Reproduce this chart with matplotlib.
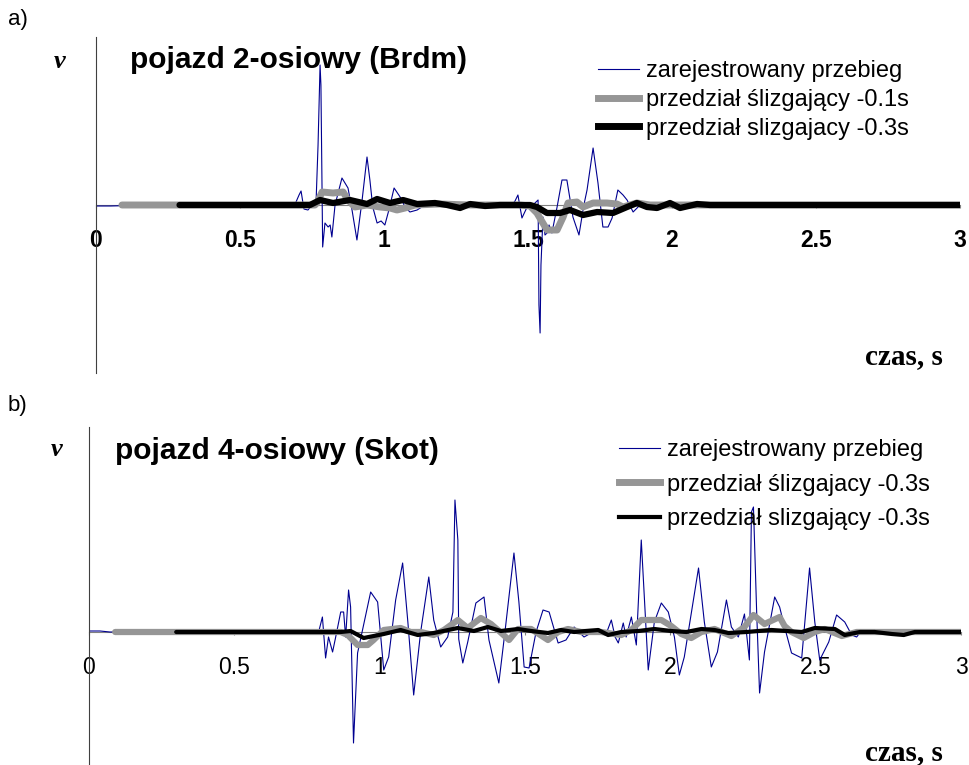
import matplotlib
matplotlib.use("Agg")
import matplotlib.pyplot as plt
from matplotlib.lines import Line2D

# panel a) - pojazd 2-osiowy (Brdm), v in arbitrary units
t_a_raw = [0.0, 0.05, 0.19, 0.36, 0.57, 0.69, 0.705, 0.712, 0.722, 0.736, 0.75, 0.764, 0.771,
           0.778, 0.781, 0.787, 0.795, 0.806, 0.813, 0.819, 0.83, 0.854, 0.875, 0.889, 0.906,
           0.924, 0.941, 0.951, 0.961, 0.976, 0.99, 1.003, 1.017, 1.035, 1.056, 1.073, 1.09,
           1.115, 1.142, 1.17, 1.194, 1.333, 1.444, 1.455, 1.465, 1.479, 1.497, 1.517, 1.535,
           1.538, 1.542, 1.545, 1.552, 1.559, 1.566, 1.573, 1.583, 1.601, 1.618, 1.635, 1.656,
           1.677, 1.694, 1.705, 1.726, 1.743, 1.76, 1.778, 1.792, 1.812, 1.83, 1.844, 1.865,
           1.889, 1.924, 1.958, 3.0]
v_a_raw = [-1, -1, 0, 0, 0, 0, 10, 14, -4, -5, 0, 2, 60,
           140, 120, -42, -18, -22, -20, -32, 0, 27, 17, -5, -35,
           5, 48, 25, -2, -18, -16, -20, -5, 17, 8, -2, -7,
           -5, 0, 3, -1, 0, 0, 4, 10, -13, -2, 0, 5,
           -100, -128, -60, -12, -30, -28, -20, -28, -2, 25, 25, -12,
           -30, 0, 15, 57, 22, -22, -22, -13, 15, 10, 5, -7,
           0, 2, 0, 0]

t_a_01 = [0.09, 0.3, 0.5, 0.76, 0.767, 0.785, 0.823, 0.858, 0.875, 0.899, 0.941, 0.986, 1.021,
          1.045, 1.073, 1.108, 1.194, 1.299, 1.472, 1.507, 1.531, 1.566, 1.601, 1.622, 1.639,
          1.67, 1.691, 1.726, 1.774, 1.809, 1.83, 1.878, 1.924, 2.097, 3.0]
v_a_01 = [0, 0, 0, 0, 2, 13, 12, 13, 5, -2, 0, -2, -3,
          -5, -3, 0, 1, 0, 0, -1, -8, -25, -25, -12, 2,
          3, -2, 2, 2, 1, -2, 2, 0, 0, 0]

t_a_03 = [0.29, 0.6, 0.743, 0.778, 0.823, 0.882, 0.941, 0.976, 1.021, 1.066, 1.115, 1.177,
          1.219, 1.264, 1.299, 1.351, 1.403, 1.507, 1.531, 1.566, 1.611, 1.646, 1.691, 1.74,
          1.795, 1.844, 1.878, 1.913, 1.948, 1.993, 2.028, 2.087, 2.132, 3.0]
v_a_03 = [0, 0, 0, 5, 2, 5, 1, 6, 2, 5, 1, 2,
          0, -3, 1, -1, 0, 0, -2, -8, -8, -5, -10, -7,
          -8, -2, 2, -2, -3, 2, -3, 1, 0, 0]

# panel b) - pojazd 4-osiowy (Skot)
t_b_raw = [0.0, 0.038, 0.072, 0.383, 0.728, 0.79, 0.803, 0.814, 0.824, 0.838, 0.848, 0.866,
           0.876, 0.883, 0.893, 0.9, 0.91, 0.924, 0.941, 0.969, 0.993, 1.014, 1.031, 1.055,
           1.079, 1.097, 1.117, 1.141, 1.169, 1.186, 1.21, 1.234, 1.252, 1.259, 1.269, 1.272,
           1.286, 1.303, 1.331, 1.359, 1.376, 1.41, 1.431, 1.462, 1.479, 1.497, 1.514, 1.538,
           1.562, 1.583, 1.614, 1.641, 1.669, 1.703, 1.752, 1.779, 1.797, 1.81, 1.821, 1.838,
           1.848, 1.866, 1.883, 1.9, 1.924, 1.945, 1.969, 1.993, 2.014, 2.031, 2.048, 2.097,
           2.117, 2.141, 2.162, 2.193, 2.21, 2.234, 2.255, 2.272, 2.279, 2.286, 2.297, 2.307,
           2.324, 2.359, 2.376, 2.393, 2.417, 2.452, 2.479, 2.497, 2.514, 2.545, 2.572, 2.6,
           2.624, 2.641, 2.659, 2.693, 3.0]
v_b_raw = [1, 1, 0, 0, 0, 0, 15, -26, -5, -20, -6, 20,
           20, -5, 42, 25, -111, -21, 2, 40, 30, -38, -25, 32,
           69, 10, -63, 0, 55, 12, -15, -5, 20, 132, 92, -7,
           -31, -10, 29, 35, -8, -51, 0, 79, 30, -35, -36, 0,
           22, 20, -11, -8, 5, -5, 3, -2, 12, -5, -11, 9,
           -5, 15, -13, 92, -38, 10, 29, 20, -5, -43, -25, 64,
           10, -35, -20, 32, 5, -5, 18, -28, 120, 125, 20, -61,
           -20, 35, 25, 5, -21, -26, 64, 10, -28, -10, 17, 10,
           -3, -5, 2, 0, 0]

t_b_g = [0.09, 0.5, 0.866, 0.89, 0.924, 0.959, 0.979, 1.014, 1.072, 1.107, 1.141, 1.186,
         1.221, 1.269, 1.303, 1.348, 1.383, 1.407, 1.445, 1.476, 1.521, 1.579, 1.614, 1.648,
         1.693, 1.762, 1.831, 1.866, 1.9, 1.969, 2.003, 2.038, 2.072, 2.107, 2.152, 2.21,
         2.255, 2.286, 2.324, 2.376, 2.393, 2.417, 2.459, 2.497, 2.531, 2.59, 2.641, 2.693, 3.0]
v_b_g = [0, 0, 0, -3, -13, -13, -8, 2, 4, 0, 0, -3,
         2, 12, 4, 14, 8, 2, -8, 3, 3, -8, 0, 3,
         0, 0, -3, 2, 12, 12, 6, -2, -6, 0, 3, -4,
         5, 17, 8, 15, 6, 0, -6, 0, 3, -4, 0, 0, 0]

t_b_k = [0.3, 0.7, 0.866, 0.9, 0.945, 1.014, 1.072, 1.131, 1.186, 1.269, 1.324, 1.372,
         1.417, 1.476, 1.521, 1.579, 1.624, 1.669, 1.71, 1.752, 1.786, 1.831, 1.89, 1.945,
         2.003, 2.055, 2.107, 2.152, 2.2, 2.262, 2.303, 2.348, 2.4, 2.452, 2.497, 2.566,
         2.6, 2.652, 2.703, 2.762, 2.803, 2.841, 2.959, 3.0]
v_b_k = [0, 0, 0, 1, -6, -2, 2, -3, -1, 4, 1, 5,
         1, 3, 1, -1, 2, 0, 1, 2, -3, 0, 1, 3,
         1, 0, 3, 2, -1, 0, 1, 2, 1, 0, 4, 3,
         -3, 0, 0, -2, -3, 0, 0, 0]

xticks = [0, 0.5, 1, 1.5, 2, 2.5, 3]
xticklabels = ["0", "0.5", "1", "1.5", "2", "2.5", "3"]
labels_a = ["zarejestrowany przebieg", "przedział ślizgający -0.1s", "przedział slizgajacy -0.3s"]
labels_b = ["zarejestrowany przebieg", "przedział ślizgajacy -0.3s", "przedział slizgający -0.3s"]

SANS = "Liberation Sans"
SERIF = "Liberation Serif"
BLUE = "#000090"
GREY = "#969696"

W, H = 970, 765
fig = plt.figure(figsize=(9.7, 7.65), dpi=100)


def setup(ax, bold):
    ax.set_xlim(0, 3)
    for s in ["top", "right"]:
        ax.spines[s].set_visible(False)
    ax.spines["left"].set_color("#404040")
    ax.spines["left"].set_linewidth(0.8)
    ax.spines["bottom"].set_position(("data", 0))
    ax.spines["bottom"].set_color("#808080")
    ax.spines["bottom"].set_linewidth(0.8)
    ax.spines["bottom"].set_zorder(0.5)
    ax.set_yticks([])
    ax.set_xticks(xticks)
    ax.set_xticklabels(xticklabels, fontfamily=SANS, fontsize=16.5,
                       fontweight="bold" if bold else "normal")
    ax.tick_params(axis="x", direction="out", length=2, color="#808080", pad=15)
    ax.set_facecolor("none")


# panel a
ax1 = fig.add_axes([96 / W, 1 - 373 / H, 864 / W, 336 / H])
ax1.set_ylim(-168, 168)
setup(ax1, True)
ax1.plot(t_a_raw, v_a_raw, color=BLUE, lw=0.8, zorder=2)
ax1.plot(t_a_01, v_a_01, color=GREY, lw=5, zorder=3, solid_capstyle="round")
ax1.plot(t_a_03, v_a_03, color="black", lw=4.5, zorder=4, solid_capstyle="round")
h1 = [Line2D([], [], color=BLUE, lw=0.8), Line2D([], [], color=GREY, lw=5),
      Line2D([], [], color="black", lw=5)]
ax1.legend(h1, labels_a, loc="upper left", bbox_to_anchor=(598 / W, 1 - 60.5 / H),
           bbox_transform=fig.transFigure, frameon=False, borderpad=0, borderaxespad=0,
           handlelength=1.75, handletextpad=0.3, labelspacing=0.28,
           prop={"family": SANS, "size": 17})

# panel b
ax2 = fig.add_axes([89 / W, 0, 872 / W, 338 / H])
ax2.set_ylim(-133, 205)
setup(ax2, False)
ax2.plot(t_b_raw, v_b_raw, color=BLUE, lw=0.8, zorder=2)
ax2.plot(t_b_g, v_b_g, color=GREY, lw=4.5, zorder=3, solid_capstyle="round")
ax2.plot(t_b_k, v_b_k, color="black", lw=3, zorder=4, solid_capstyle="round")
h2 = [Line2D([], [], color=BLUE, lw=0.8), Line2D([], [], color=GREY, lw=5),
      Line2D([], [], color="black", lw=3)]
ax2.legend(h2, labels_b, loc="upper left", bbox_to_anchor=(619 / W, 1 - 439 / H),
           bbox_transform=fig.transFigure, frameon=False, borderpad=0, borderaxespad=0,
           handlelength=1.75, handletextpad=0.3, labelspacing=0.53,
           prop={"family": SANS, "size": 17})

# texts
fig.text(8 / W, 1 - 19 / H, "a)", fontfamily=SANS, fontsize=16, va="center")
fig.text(8 / W, 1 - 405 / H, "b)", fontfamily=SANS, fontsize=16, va="center")
fig.text(130 / W, 1 - 68 / H, "pojazd 2-osiowy (Brdm)", fontfamily=SANS, fontsize=21.5,
         fontweight="bold", va="baseline")
fig.text(115 / W, 1 - 459 / H, "pojazd 4-osiowy (Skot)", fontfamily=SANS, fontsize=21.5,
         fontweight="bold", va="baseline")
fig.text(60 / W, 1 - 62 / H, "v", fontfamily=SERIF, fontsize=19, fontweight="bold",
         fontstyle="italic", ha="center", va="center")
fig.text(57 / W, 1 - 449 / H, "v", fontfamily=SERIF, fontsize=19, fontweight="bold",
         fontstyle="italic", ha="center", va="center")
fig.text(904 / W, 1 - 357 / H, "czas, s", fontfamily=SERIF, fontsize=21, fontweight="bold",
         ha="center", va="center")
fig.text(904 / W, 1 - 753 / H, "czas, s", fontfamily=SERIF, fontsize=21, fontweight="bold",
         ha="center", va="center")

fig.savefig("out.png", dpi=100)
